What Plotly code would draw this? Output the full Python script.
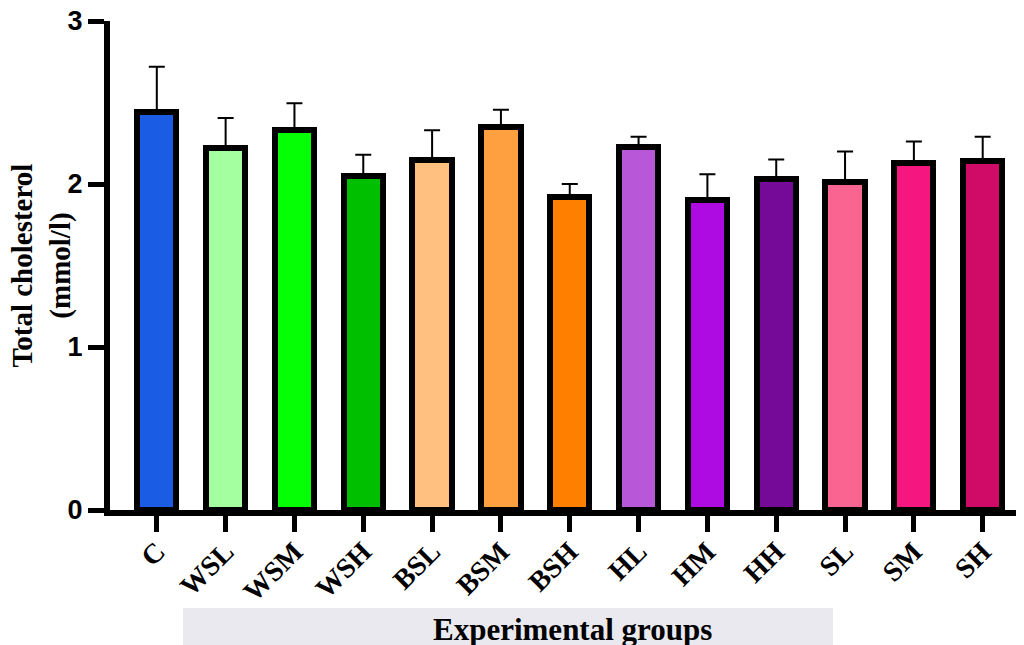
import plotly.graph_objects as go

groups = ["C", "WSL", "WSM", "WSH", "BSL", "BSM", "BSH", "HL", "HM", "HH", "SL", "SM", "SH"]
means = [2.44, 2.22, 2.33, 2.05, 2.15, 2.35, 1.92, 2.23, 1.90, 2.03, 2.01, 2.13, 2.14]
upper = [2.72, 2.405, 2.495, 2.18, 2.33, 2.455, 2.00, 2.29, 2.06, 2.15, 2.20, 2.26, 2.29]
colors = ["#1B5CE4", "#A4FFA0", "#05FF05", "#00BE00", "#FFC080", "#FFA040", "#FF8000",
          "#B858D8", "#AE0BE3", "#760A98", "#FA6490", "#F5167F", "#CF0B67"]
yticks = [0, 1, 2, 3]

err_plus = [u - m for u, m in zip(upper, means)]

fig = go.Figure()
fig.add_trace(go.Bar(
    x=list(range(len(groups))),
    y=means,
    width=0.57,
    marker=dict(color=colors, line=dict(color="black", width=6)),
    error_y=dict(type="data", symmetric=False, array=err_plus,
                 arrayminus=[0] * len(means), color="black", thickness=2, width=8),
))

# page has an 8px body margin, so the figure is 8px smaller and offset
fig.update_layout(
    width=1016, height=637,
    margin=dict(l=102, r=0, t=13, b=135, autoexpand=False),
    plot_bgcolor="white", paper_bgcolor="white",
    showlegend=False,
    bargap=0,
    xaxis=dict(
        range=[-0.68, 12.6],
        tickmode="array", tickvals=list(range(len(groups))), ticktext=groups,
        tickangle=-45, automargin=False, ticklabelstandoff=-8,
        tickfont=dict(family="Liberation Serif", size=28, color="black", weight="bold"),
        showline=True, linecolor="black", linewidth=6,
        ticks="outside", ticklen=16, tickwidth=5, tickcolor="black",
        showgrid=False, zeroline=False,
    ),
    yaxis=dict(
        range=[0, 3], automargin=False, ticklabeloverflow="allow",
        tickvals=yticks,
        tickfont=dict(family="Liberation Sans", size=27, color="black", weight="bold"),
        showline=True, linecolor="black", linewidth=6,
        ticks="outside", ticklen=16, tickwidth=5, tickcolor="black",
        showgrid=False, zeroline=False,
    ),
)

fig.add_shape(type="rect", xref="paper", yref="paper",
              x0=0.0799, x1=0.791, y0=-0.2004, y1=-0.30,
              fillcolor="#E9E9EF", line=dict(width=0), layer="below")

fig.add_annotation(text="Experimental groups", xref="paper", yref="paper",
                   x=0.5055, y=-0.2435, xanchor="center", yanchor="middle",
                   showarrow=False,
                   font=dict(family="Liberation Serif", size=31, color="black", weight="bold"))

fig.add_annotation(text="Total cholesterol<br>(mmol/l)", xref="paper", yref="paper",
                   x=-0.0745, y=0.5, xanchor="center", yanchor="middle",
                   textangle=-90, showarrow=False,
                   font=dict(family="Liberation Serif", size=29, color="black", weight="bold"))

fig.write_html("out.html")
